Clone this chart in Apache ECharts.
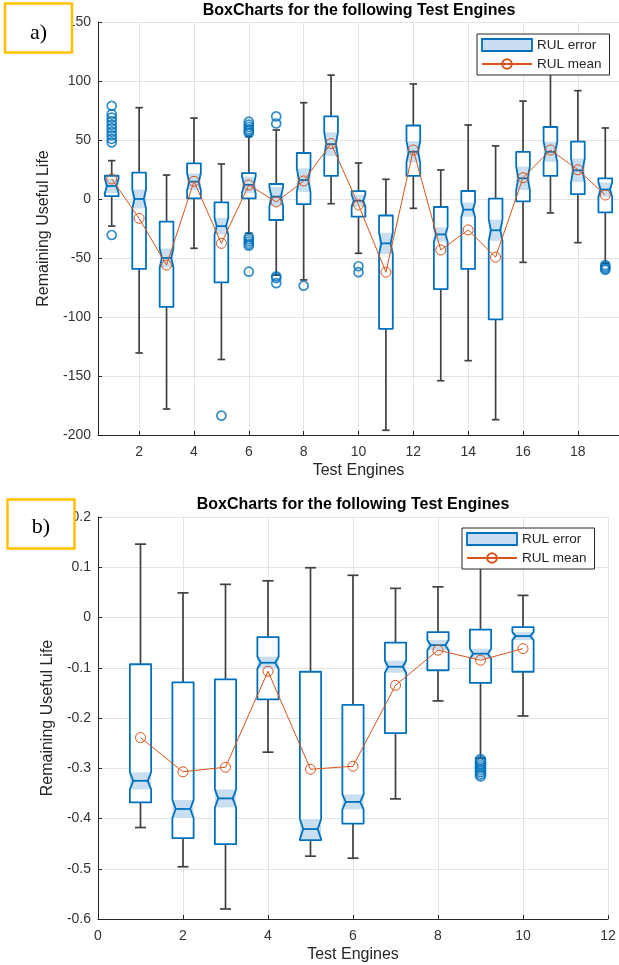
<!DOCTYPE html>
<html><head><meta charset="utf-8">
<script src="https://cdn.jsdelivr.net/npm/echarts@6/dist/echarts.min.js"></script>
<style>html,body{margin:0;padding:0;background:#fff}#c{width:619px;height:965px}</style>
</head><body><div id="c"></div>
<script>
// ---------- Chart a) ----------
const enginesA = [1,2,3,4,5,6,7,8,9,10,11,12,13,14,15,16,17,18,19];
const q1A     = [2.5,-59.3,-91.5,0.6,-70.6,0.6,-17.8,-4.4,19.6,-15,-110,19.6,-76.3,-59.3,-102,-2,19.6,4.1,-11.4];
const medA    = [11,0,-50,14.7,-23,12,2,16,46.5,-1.5,-37.6,40,-30,-9,-26.5,17.5,40,24.3,8];
const q3A     = [19.7,22.3,-19.2,30.2,-2.8,22,12.7,39,70,6.6,-14,62.3,-6.8,6.8,0.3,40,61,48.6,17.5];
const notchA  = [6,8,8,7,7,7,8,10,10,5,9,9,6,6,9,10,8.5,10,6];
const whLoA   = [-22.9,-130.5,-178,-41.8,-136,-29,-64.5,-68.6,-4,-46,-196,-7.9,-154,-137,-187,-53.7,-11.8,-37,-54.5];
const whHiA   = [32.5,77.4,20.3,68.6,29.7,53,58.5,81.6,105,30.5,16.7,97.5,24.6,62.7,45,83,115,91.8,60.2];
const meanA   = [17,-16.4,-56,15,-37.6,11.9,-2.5,15.3,47,-5,-62,41.5,-43.2,-26.2,-49.3,18,41.5,24.8,3.4];
const outXA   = [1,1,1,1,1,1,1,1,1,1,1, 5, 6,6,6,6,6,6, 6,6,6,6,6,6, 7,7,7,7,7, 8, 10,10, 19,19,19,19];
const outYA   = [79,72,69,66,63,60,57,54,51,48,-30.5, -183.6, 65.5,63,61,59,57.5,56, -32,-34,-36,-38,-39.5,-61.6, 70,64,-65.5,-67,-71.3, -73.5, -57,-62, -56,-57.5,-59,-60];

// ---------- Chart b) ----------
const enginesB = [1,2,3,4,5,6,7,8,9,10];
const q1B     = [-0.368,-0.439,-0.451,-0.163,-0.443,-0.41,-0.23,-0.105,-0.13,-0.108];
const medB    = [-0.325,-0.381,-0.36,-0.09,-0.421,-0.367,-0.098,-0.055,-0.072,-0.037];
const q3B     = [-0.093,-0.129,-0.123,-0.039,-0.108,-0.174,-0.05,-0.029,-0.024,-0.019];
const notchB  = [0.017,0.018,0.018,0.012,0.02,0.015,0.012,0.01,0.01,0.008];
const whLoB   = [-0.418,-0.496,-0.58,-0.268,-0.475,-0.479,-0.361,-0.166,-0.28,-0.196];
const whHiB   = [0.146,0.049,0.066,0.073,0.099,0.084,0.058,0.061,0.12,0.044];
const meanB   = [-0.239,-0.307,-0.298,-0.107,-0.302,-0.296,-0.135,-0.065,-0.085,-0.062];
const outXB   = [9,9,9,9,9,9,9,9,9];
const outYB   = [-0.283,-0.287,-0.291,-0.295,-0.299,-0.303,-0.307,-0.311,-0.315];

const BLUE = '#0072BD', ORANGE = '#D95319', SHADE = '#C9DFF1', WHISK = '#404040', AX = '#262626';
const FONT = '"Liberation Sans", Arial, Helvetica, sans-serif';

function rows(xs, q1, md, q3, nt, lo, hi) {
  return xs.map((x, i) => [x, q1[i], md[i], q3[i], nt[i], lo[i], hi[i]]);
}
function pairs(xs, ys) { return xs.map((x, i) => [x, ys[i]]); }

function boxRender(boxW, capW) {
  return function (params, api) {
    const x = api.value(0), q1 = api.value(1), med = api.value(2), q3 = api.value(3),
      nh = api.value(4), wLo = api.value(5), wHi = api.value(6);
    const c = api.coord([x, med]);
    const half = api.size([boxW, 0])[0] / 2;
    const capHalf = api.size([capW, 0])[0] / 2;
    const yQ1 = api.coord([x, q1])[1], yQ3 = api.coord([x, q3])[1];
    const yNL = api.coord([x, Math.max(q1, med - nh)])[1];
    const yNH = api.coord([x, Math.min(q3, med + nh)])[1];
    const yWL = api.coord([x, wLo])[1], yWH = api.coord([x, wHi])[1];
    const xc = c[0], yM = c[1], xL = xc - half, xR = xc + half, ins = half * 0.32;
    const pts = [[xL, yQ3], [xR, yQ3], [xR, yNH], [xR - ins, yM], [xR, yNL], [xR, yQ1],
                 [xL, yQ1], [xL, yNL], [xL + ins, yM], [xL, yNH]];
    const wst = { stroke: WHISK, lineWidth: 1.7 };
    return { type: 'group', children: [
      { type: 'line', shape: { x1: xc, y1: yWH, x2: xc, y2: yWL }, style: wst },
      { type: 'line', shape: { x1: xc - capHalf, y1: yWH, x2: xc + capHalf, y2: yWH }, style: wst },
      { type: 'line', shape: { x1: xc - capHalf, y1: yWL, x2: xc + capHalf, y2: yWL }, style: wst },
      { type: 'polygon', shape: { points: pts }, style: { fill: '#fff', stroke: null } },
      { type: 'rect', shape: { x: xL, y: yNH, width: 2 * half, height: yNL - yNH }, style: { fill: SHADE } },
      { type: 'polygon', shape: { points: pts }, style: { fill: null, stroke: BLUE, lineWidth: 1.8, lineJoin: 'round' } },
      { type: 'line', shape: { x1: xL + ins, y1: yM, x2: xR - ins, y2: yM }, style: { stroke: BLUE, lineWidth: 1.8 } }
    ]};
  };
}

function xAxisCfg(gi, min, max) {
  return {
    gridIndex: gi, type: 'value', min: min, max: max, minInterval: 2, maxInterval: 2,
    name: 'Test Engines', nameLocation: 'middle', nameGap: 28,
    nameTextStyle: { fontSize: 16, color: AX, fontFamily: FONT },
    axisLine: { onZero: false, lineStyle: { color: AX, width: 1 } },
    axisTick: { inside: true, length: 4, lineStyle: { color: AX } },
    axisLabel: { fontSize: 14, color: '#333', margin: 10, fontFamily: FONT, showMinLabel: gi === 1, showMaxLabel: gi === 1 },
    splitLine: { show: true, lineStyle: { color: '#E3E3E3', width: 1 } }
  };
}
function yAxisCfg(gi, min, max, interval, gap) {
  return {
    gridIndex: gi, type: 'value', min: min, max: max, interval: interval,
    name: 'Remaining Useful Life', nameLocation: 'middle', nameGap: gap,
    nameTextStyle: { fontSize: 16, color: AX, fontFamily: FONT },
    axisLine: { show: true, onZero: false, lineStyle: { color: AX, width: 1 } },
    axisTick: { show: true, inside: true, length: 4, lineStyle: { color: AX } },
    axisLabel: { fontSize: 14, color: '#333', margin: 7, fontFamily: FONT },
    splitLine: { show: true, lineStyle: { color: '#E3E3E3', width: 1 } }
  };
}
function legendCfg(left, top) {
  return {
    left: left, top: top, orient: 'vertical', itemWidth: 50, itemHeight: 12, itemGap: 5,
    padding: [4, 8, 4, 4], borderColor: AX, borderWidth: 1, backgroundColor: '#fff', borderRadius: 0,
    textStyle: { fontSize: 13.5, color: AX, fontFamily: FONT },
    selectedMode: false,
    data: [
      { name: 'RUL error', icon: 'rect', itemStyle: { color: SHADE, borderColor: BLUE, borderWidth: 1.8 } },
      { name: 'RUL mean' }
    ]
  };
}
function boxSeries(gi, data, boxW, capW) {
  return {
    type: 'custom', name: 'RUL error', xAxisIndex: gi, yAxisIndex: gi,
    renderItem: boxRender(boxW, capW), data: data,
    encode: { x: 0, y: [1, 2, 3, 5, 6] },
    itemStyle: { color: SHADE, borderColor: BLUE }, z: 2
  };
}
function meanSeries(gi, data) {
  return {
    type: 'line', name: 'RUL mean', xAxisIndex: gi, yAxisIndex: gi, data: data,
    symbol: 'circle', symbolSize: 10, z: 4,
    lineStyle: { color: ORANGE, width: 1 },
    itemStyle: { color: 'rgba(255,255,255,0)', borderColor: ORANGE, borderWidth: 1 }
  };
}
function outlierSeries(gi, data, size) {
  return {
    type: 'scatter', name: 'outliers', xAxisIndex: gi, yAxisIndex: gi, data: data,
    symbol: 'circle', symbolSize: size, z: 3,
    itemStyle: { color: 'rgba(255,255,255,0)', borderColor: BLUE, borderWidth: 1.7 }
  };
}

const chart = echarts.init(document.getElementById('c'), null, { renderer: 'canvas' });
chart.setOption({
  backgroundColor: '#fff',
  animation: false,
  textStyle: { fontFamily: FONT },
  grid: [
    { left: 98, top: 22, width: 522, height: 413 },
    { left: 98, top: 517, width: 510, height: 402 }
  ],
  xAxis: [xAxisCfg(0, 0.5, 19.5), xAxisCfg(1, 0, 12)],
  yAxis: [yAxisCfg(0, -200, 150, 50, 41), yAxisCfg(1, -0.6, 0.2, 0.1, 37)],
  legend: [legendCfg(477, 34), legendCfg(462, 528)],
  series: [
    boxSeries(0, rows(enginesA, q1A, medA, q3A, notchA, whLoA, whHiA), 0.5, 0.27),
    outlierSeries(0, pairs(outXA, outYA), 9),
    meanSeries(0, pairs(enginesA, meanA)),
    boxSeries(1, rows(enginesB, q1B, medB, q3B, notchB, whLoB, whHiB), 0.5, 0.26),
    outlierSeries(1, pairs(outXB, outYB), 10),
    meanSeries(1, pairs(enginesB, meanB))
  ],
  graphic: [
    { type: 'text', x: 359, y: 11, z: 10, style: { text: 'BoxCharts for the following Test Engines', fill: '#000', font: 'bold 16px ' + FONT, textAlign: 'center', textVerticalAlign: 'middle' } },
    { type: 'text', x: 353, y: 505, z: 10, style: { text: 'BoxCharts for the following Test Engines', fill: '#000', font: 'bold 16px ' + FONT, textAlign: 'center', textVerticalAlign: 'middle' } },
    { type: 'rect', z: 10, shape: { x: 5, y: 3.5, width: 67, height: 49 }, style: { fill: '#fff', stroke: '#FFC000', lineWidth: 2.5 } },
    { type: 'text', z: 11, x: 38.5, y: 33, style: { text: 'a)', fill: '#000', font: '22px "Liberation Serif", "Times New Roman", serif', textAlign: 'center', textVerticalAlign: 'middle' } },
    { type: 'rect', z: 10, shape: { x: 7.5, y: 499.5, width: 67, height: 49 }, style: { fill: '#fff', stroke: '#FFC000', lineWidth: 2.5 } },
    { type: 'text', z: 11, x: 41, y: 527, style: { text: 'b)', fill: '#000', font: '22px "Liberation Serif", "Times New Roman", serif', textAlign: 'center', textVerticalAlign: 'middle' } }
  ]
});
</script></body></html>
